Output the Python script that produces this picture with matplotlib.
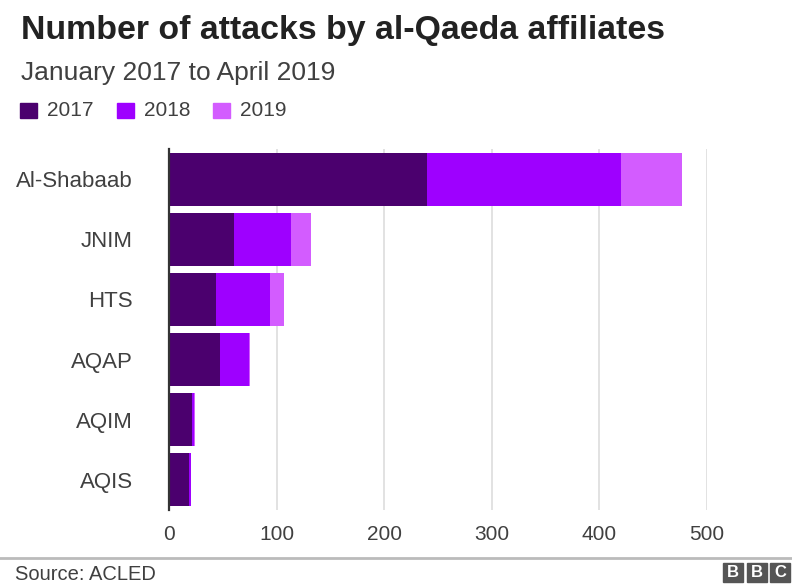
import matplotlib
matplotlib.use("Agg")
import matplotlib.pyplot as plt
from matplotlib.patches import Rectangle
from matplotlib.lines import Line2D
import numpy as np

plt.rcParams['font.family'] = ['Liberation Sans', 'DejaVu Sans']

groups = ['Al-Shabaab', 'JNIM', 'HTS', 'AQAP', 'AQIM', 'AQIS']
y2017 = [240, 60, 44, 47, 21, 19]
y2018 = [180, 53, 50, 27, 2, 1]
y2019 = [57, 19, 13, 1, 1, 0]
years = ['2017', '2018', '2019']
colors = ['#4b006e', '#9e00ff', '#d35cff']
xticks = [0, 100, 200, 300, 400, 500]

W, H = 792, 586
fig = plt.figure(figsize=(W / 100, H / 100), dpi=100)

def fx(px):
    return px / W

def fy(py):
    return 1 - py / H

ax = fig.add_axes([fx(169), fy(510), fx(707) - fx(169), fy(149) - fy(510)])

ypos = np.arange(len(groups))
left = np.zeros(len(groups))
for vals, c in zip([y2017, y2018, y2019], colors):
    ax.barh(ypos, vals, left=left, height=0.88, color=c, zorder=3)
    left += np.array(vals)

ax.set_xlim(0, 500)
ax.set_ylim(len(groups) - 0.5, -0.5)
ax.set_xticks(xticks)
ax.set_xticklabels([str(t) for t in xticks])
ax.set_yticks(ypos)
ax.set_yticklabels(groups)
ax.tick_params(axis='x', length=0, pad=11, labelsize=15, labelcolor='#404040')
ax.tick_params(axis='y', length=0, pad=26, labelsize=16, labelcolor='#404040')
ax.grid(axis='x', color='#dddddd', lw=1.2, zorder=0)
for s in ['top', 'right', 'bottom']:
    ax.spines[s].set_visible(False)
ax.spines['left'].set_color('#333333')
ax.spines['left'].set_linewidth(1.6)
ax.spines['left'].set_zorder(4)

# titles
fig.text(fx(21), fy(31), 'Number of attacks by al-Qaeda affiliates',
         fontsize=24.4, fontweight='bold', color='#222222', va='center', ha='left')
fig.text(fx(21), fy(73), 'January 2017 to April 2019',
         fontsize=19, color='#404040', va='center', ha='left')

# legend
lx = [20, 117, 213]
for x0, yr, c in zip(lx, years, colors):
    fig.patches.append(Rectangle((fx(x0), fy(118)), fx(17), fy(103) - fy(118),
                                 transform=fig.transFigure, color=c))
    fig.text(fx(x0 + 27), fy(111), yr, fontsize=15, color='#404040',
             va='center', ha='left')

# footer
fig.lines.append(Line2D([0, 1], [fy(558), fy(558)], transform=fig.transFigure,
                        color='#bbbbbb', lw=2))
fig.text(fx(15), fy(574), 'Source: ACLED', fontsize=14.5, color='#404040',
         va='center', ha='left')
for x0, letter in zip([723, 747, 770], ['B', 'B', 'C']):
    fig.patches.append(Rectangle((fx(x0), fy(582)), fx(20), fy(563) - fy(582),
                                 transform=fig.transFigure, color='#555555'))
    fig.text(fx(x0 + 10), fy(572.5), letter, fontsize=12, fontweight='bold',
             color='white', va='center', ha='center')

fig.savefig('out.png', dpi=100)
